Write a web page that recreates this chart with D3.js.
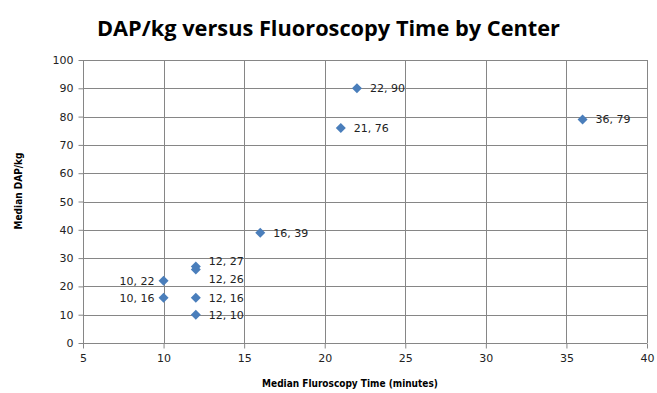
<!DOCTYPE html>
<meta charset='utf-8'>
<style>
body { margin: 0; background: #fff; }
.grid line { stroke: #868686; stroke-width: 1px; }
.axis path, .axis line { stroke: #868686; }
.axis text { font: 11px 'DejaVu Sans', sans-serif; fill: #222; }
.lbl { font: 11px 'DejaVu Sans', sans-serif; fill: #222; }
.ttl { font-family: 'Open Sans', 'Liberation Sans', sans-serif; font-weight: bold; font-size: 21px; }
.atl { font: bold 10px 'DejaVu Sans Condensed', 'DejaVu Sans', sans-serif; }
</style>
<body>
<div class='chart'></div>
<script src='https://d3js.org/d3.v7.min.js'></script>
<script>
var xs = [10, 10, 12, 12, 12, 12, 16, 21, 22, 36];
var ys = [22, 16, 27, 26, 16, 10, 39, 76, 90, 79];
// label side: r = right, l = left, ra = right above, rb = right below
var sides = ['l', 'l', 'ra', 'rb', 'r', 'r', 'r', 'r', 'r', 'r'];
var xTicks = [5, 10, 15, 20, 25, 30, 35, 40];
var yTicks = [0, 10, 20, 30, 40, 50, 60, 70, 80, 90, 100];

var width = 657, height = 393;
var m = {left: 83, right: 10, top: 60, bottom: 50};

var svg = d3.select('.chart').append('svg')
    .attr('width', width)
    .attr('height', height);

var x = d3.scaleLinear().domain([5, 40]).range([m.left, width - m.right]);
var y = d3.scaleLinear().domain([0, 100]).range([height - m.bottom, m.top]);

var grid = svg.append('g').attr('class', 'grid');
grid.selectAll('.h').data(yTicks).enter().append('line')
    .attr('x1', m.left).attr('x2', width - m.right)
    .attr('y1', function(d) { return Math.round(y(d)) + 0.5; })
    .attr('y2', function(d) { return Math.round(y(d)) + 0.5; });
grid.selectAll('.v').data(xTicks).enter().append('line')
    .attr('y1', m.top).attr('y2', height - m.bottom)
    .attr('x1', function(d) { return Math.round(x(d)) + 0.5; })
    .attr('x2', function(d) { return Math.round(x(d)) + 0.5; });

svg.append('g').attr('class', 'axis')
    .attr('transform', 'translate(0,' + (Math.round(y(0)) + 0.5) + ')')
    .call(d3.axisBottom(x).tickValues(xTicks).tickSize(5).tickPadding(6))
    .call(function(g) { g.select('.domain').remove(); });

svg.append('g').attr('class', 'axis')
    .attr('transform', 'translate(' + (Math.round(x(5)) + 0.5) + ',0)')
    .call(d3.axisLeft(y).tickValues(yTicks).tickSize(5).tickPadding(5))
    .call(function(g) { g.select('.domain').remove(); });

var pts = xs.map(function(d, i) { return {x: d, y: ys[i], s: sides[i]}; });

var r = 5;
svg.selectAll('.pt').data(pts).enter().append('path')
    .attr('d', 'M0,' + (-r) + 'L' + r + ',0L0,' + r + 'L' + (-r) + ',0Z')
    .attr('fill', '#4a7ebb')
    .attr('transform', function(d) { return 'translate(' + x(d.x) + ',' + y(d.y) + ')'; });

svg.selectAll('.lbl').data(pts).enter().append('text')
    .attr('class', 'lbl')
    .attr('x', function(d) { return d.s === 'l' ? x(d.x) - 9 : x(d.x) + 13; })
    .attr('y', function(d) {
        var dy = d.s === 'ra' ? -6 : d.s === 'rb' ? 10 : 0;
        return y(d.y) + dy + 4;
    })
    .attr('text-anchor', function(d) { return d.s === 'l' ? 'end' : 'start'; })
    .text(function(d) { return d.x + ', ' + d.y; });

svg.append('text').attr('class', 'ttl')
    .attr('x', 97).attr('y', 36)
    .attr('textLength', 463)
    .attr('lengthAdjust', 'spacingAndGlyphs')
    .text('DAP/kg versus Fluoroscopy Time by Center');

svg.append('text').attr('class', 'atl')
    .attr('x', 350).attr('y', 387)
    .attr('text-anchor', 'middle')
    .text('Median Fluroscopy Time (minutes)');

svg.append('text').attr('class', 'atl')
    .attr('transform', 'translate(22,191) rotate(-90)')
    .attr('text-anchor', 'middle')
    .text('Median DAP/kg');
</script>
